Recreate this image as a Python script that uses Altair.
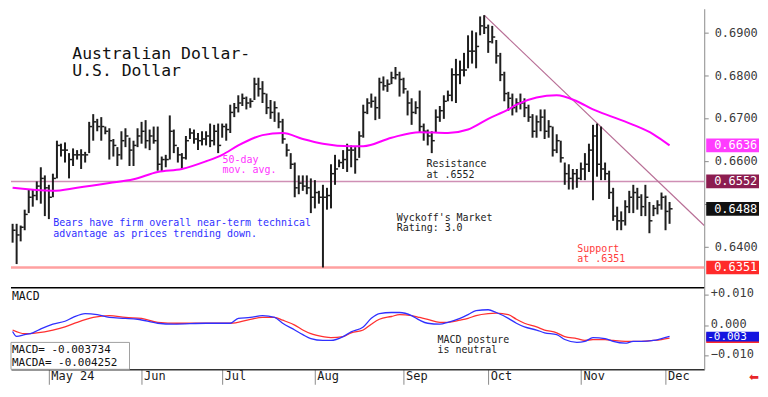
import json
import altair as alt
import pandas as pd

# ---------------- data ----------------
bar_high = [
    0.6453, 0.6453, 0.6449, 0.6486, 0.6533, 0.6533, 0.6552, 0.6585, 0.6566, 0.6544,
    0.6570, 0.6647, 0.6640, 0.6643, 0.6618, 0.6629, 0.6625, 0.6627, 0.6621, 0.6691,
    0.6709, 0.6698, 0.6702, 0.6680, 0.6676, 0.6651, 0.6632, 0.6669, 0.6676, 0.6654,
    0.6647, 0.6676, 0.6691, 0.6695, 0.6673, 0.6680, 0.6680, 0.6610, 0.6614, 0.6706,
    0.6673, 0.6632, 0.6618, 0.6658, 0.6676, 0.6673, 0.6665, 0.6669, 0.6669, 0.6687,
    0.6684, 0.6687, 0.6687, 0.6687, 0.6731, 0.6735, 0.6753, 0.6757, 0.6750, 0.6746,
    0.6794, 0.6794, 0.6786, 0.6757, 0.6742, 0.6739, 0.6713, 0.6698, 0.6640, 0.6618,
    0.6596, 0.6566, 0.6566, 0.6566, 0.6559, 0.6555, 0.6530, 0.6544, 0.6537, 0.6592,
    0.6614, 0.6603, 0.6625, 0.6640, 0.6636, 0.6632, 0.6669, 0.6731, 0.6746, 0.6757,
    0.6750, 0.6794, 0.6797, 0.6790, 0.6808, 0.6819, 0.6808, 0.6794, 0.6764, 0.6746,
    0.6739, 0.6764, 0.6687, 0.6673, 0.6669, 0.6720, 0.6728, 0.6753, 0.6764, 0.6816,
    0.6838, 0.6834, 0.6852, 0.6893, 0.6904, 0.6900, 0.6937, 0.6940, 0.6918, 0.6915,
    0.6882, 0.6852, 0.6808, 0.6761, 0.6757, 0.6746, 0.6757, 0.6746, 0.6731, 0.6709,
    0.6706, 0.6720, 0.6720, 0.6695, 0.6680, 0.6662, 0.6647, 0.6596, 0.6592, 0.6581,
    0.6581, 0.6596, 0.6618, 0.6640, 0.6684, 0.6687, 0.6680, 0.6596, 0.6577, 0.6537,
    0.6493, 0.6482, 0.6508, 0.6530, 0.6544, 0.6537, 0.6522, 0.6544, 0.6504, 0.6497,
    0.6508, 0.6526, 0.6519, 0.6504,
]
bar_low = [
    0.6409, 0.6359, 0.6412, 0.6438, 0.6478, 0.6493, 0.6508, 0.6500, 0.6471, 0.6464,
    0.6515, 0.6559, 0.6610, 0.6596, 0.6559, 0.6588, 0.6603, 0.6581, 0.6596, 0.6618,
    0.6647, 0.6669, 0.6647, 0.6662, 0.6603, 0.6610, 0.6588, 0.6603, 0.6632, 0.6588,
    0.6588, 0.6632, 0.6640, 0.6629, 0.6625, 0.6640, 0.6577, 0.6574, 0.6585, 0.6603,
    0.6618, 0.6596, 0.6581, 0.6603, 0.6651, 0.6640, 0.6625, 0.6636, 0.6636, 0.6632,
    0.6636, 0.6618, 0.6654, 0.6647, 0.6665, 0.6702, 0.6713, 0.6728, 0.6720, 0.6724,
    0.6742, 0.6750, 0.6735, 0.6709, 0.6698, 0.6691, 0.6676, 0.6640, 0.6610, 0.6581,
    0.6515, 0.6522, 0.6530, 0.6522, 0.6478, 0.6489, 0.6500, 0.6351, 0.6486, 0.6489,
    0.6544, 0.6585, 0.6581, 0.6574, 0.6585, 0.6570, 0.6607, 0.6654, 0.6709, 0.6724,
    0.6695, 0.6698, 0.6764, 0.6761, 0.6779, 0.6790, 0.6750, 0.6757, 0.6706, 0.6684,
    0.6709, 0.6665, 0.6647, 0.6636, 0.6618, 0.6665, 0.6691, 0.6698, 0.6739, 0.6739,
    0.6735, 0.6779, 0.6797, 0.6816, 0.6827, 0.6816, 0.6893, 0.6896, 0.6852, 0.6874,
    0.6827, 0.6786, 0.6739, 0.6717, 0.6706, 0.6713, 0.6720, 0.6702, 0.6691, 0.6654,
    0.6654, 0.6669, 0.6651, 0.6654, 0.6610, 0.6618, 0.6596, 0.6544, 0.6533, 0.6533,
    0.6537, 0.6555, 0.6555, 0.6574, 0.6508, 0.6563, 0.6555, 0.6555, 0.6511, 0.6460,
    0.6438, 0.6438, 0.6449, 0.6478, 0.6478, 0.6486, 0.6471, 0.6471, 0.6431, 0.6471,
    0.6475, 0.6486, 0.6438, 0.6453,
]
bar_close = [
    0.6438, 0.6427, 0.6445, 0.6475, 0.6515, 0.6519, 0.6541, 0.6559, 0.6537, 0.6515,
    0.6559, 0.6636, 0.6625, 0.6625, 0.6603, 0.6614, 0.6614, 0.6614, 0.6614, 0.6680,
    0.6691, 0.6680, 0.6680, 0.6669, 0.6647, 0.6636, 0.6614, 0.6647, 0.6658, 0.6625,
    0.6636, 0.6658, 0.6669, 0.6647, 0.6658, 0.6647, 0.6592, 0.6603, 0.6603, 0.6669,
    0.6636, 0.6614, 0.6607, 0.6647, 0.6665, 0.6651, 0.6647, 0.6651, 0.6658, 0.6647,
    0.6669, 0.6636, 0.6680, 0.6673, 0.6713, 0.6724, 0.6735, 0.6746, 0.6735, 0.6739,
    0.6779, 0.6768, 0.6757, 0.6724, 0.6713, 0.6724, 0.6691, 0.6651, 0.6625, 0.6592,
    0.6537, 0.6548, 0.6541, 0.6537, 0.6515, 0.6526, 0.6515, 0.6515, 0.6519, 0.6570,
    0.6581, 0.6596, 0.6603, 0.6625, 0.6625, 0.6603, 0.6658, 0.6713, 0.6735, 0.6739,
    0.6724, 0.6783, 0.6775, 0.6779, 0.6794, 0.6801, 0.6790, 0.6768, 0.6735, 0.6713,
    0.6724, 0.6680, 0.6669, 0.6658, 0.6647, 0.6702, 0.6717, 0.6739, 0.6753, 0.6801,
    0.6801, 0.6812, 0.6812, 0.6856, 0.6856, 0.6867, 0.6915, 0.6911, 0.6878, 0.6889,
    0.6845, 0.6801, 0.6757, 0.6746, 0.6724, 0.6735, 0.6735, 0.6724, 0.6702, 0.6669,
    0.6691, 0.6702, 0.6669, 0.6680, 0.6625, 0.6647, 0.6607, 0.6570, 0.6559, 0.6570,
    0.6559, 0.6581, 0.6592, 0.6625, 0.6658, 0.6592, 0.6581, 0.6570, 0.6526, 0.6471,
    0.6460, 0.6460, 0.6493, 0.6515, 0.6526, 0.6515, 0.6493, 0.6515, 0.6460, 0.6489,
    0.6497, 0.6515, 0.6482, 0.6488,
]

ma_idx = [0, 10, 16, 24, 30, 36, 42, 48, 52, 56, 60, 62, 67, 72, 77, 84, 87, 94,
          101, 108, 113, 118, 123, 125, 130, 135, 140, 144, 149, 154, 159, 163]
ma_val = [0.6537, 0.6530, 0.6537, 0.6548, 0.6557, 0.6574, 0.6581, 0.6599, 0.6614,
          0.6636, 0.6654, 0.6660, 0.6665, 0.6651, 0.6640, 0.6634, 0.6634, 0.6654,
          0.6667, 0.6665, 0.6673, 0.6698, 0.6720, 0.6731, 0.6748, 0.6753, 0.6739,
          0.6720, 0.6702, 0.6684, 0.6662, 0.6636]

macd_idx = [0, 1, 3, 5, 7, 10, 13, 15, 18, 21, 24, 28, 31, 36, 40, 48, 54, 56, 59, 62,
            65, 67, 70, 72, 74, 77, 79, 82, 84, 87, 89, 91, 94, 96, 99, 101, 103, 106,
            108, 111, 113, 115, 118, 120, 123, 125, 127, 130, 132, 135, 137, 140, 142,
            144, 147, 149, 152, 154, 156, 159, 161, 163]
macd_val = [-0.0021, -0.0037, -0.0031, -0.0025, -0.00125, 0.0003, 0.00125, 0.0025,
            0.00375, 0.0034, 0.0025, 0.0022, 0.0019, 0.0006, 0.0003, 0.0006, 0.0006,
            0.0022, 0.0025, 0.0031, 0.0025, 0.0006, -0.0016, -0.0031, -0.0044, -0.0050,
            -0.0050, -0.00375, -0.0022, -0.0006, 0.0022, 0.00375, 0.0041, 0.0041, 0.0031,
            0.0016, 0.0006, 0.0003, 0.0009, 0.0022, 0.0034, 0.0047, 0.0050, 0.0041,
            0.0022, 0.0006, -0.0006, -0.0016, -0.0025, -0.0031, -0.0047, -0.0056,
            -0.0053, -0.0041, -0.0044, -0.0053, -0.0059, -0.0053, -0.0053, -0.0050,
            -0.0044, -0.0037]

sig_idx = [0, 3, 6, 10, 13, 16, 20, 24, 28, 32, 36, 41, 48, 54, 59, 62, 65, 67, 70, 72,
           74, 77, 79, 82, 84, 87, 89, 91, 94, 96, 99, 101, 103, 106, 108, 111, 113, 115,
           118, 120, 123, 125, 127, 130, 132, 135, 137, 140, 142, 144, 147, 149, 152,
           154, 156, 159, 161, 163]
sig_val = [-0.0016, -0.0028, -0.0025, -0.0016, -0.0006, 0.0009, 0.0025, 0.0031, 0.0025,
           0.0022, 0.0009, 0.0006, 0.0006, 0.0006, 0.0019, 0.0025, 0.0025, 0.0016, 0.0,
           -0.0016, -0.0028, -0.00375, -0.0041, -0.00375, -0.0025, -0.0016, 0.0003,
           0.0019, 0.0028, 0.0034, 0.0031, 0.0025, 0.0019, 0.0009, 0.0009, 0.0016,
           0.0022, 0.0031, 0.00375, 0.0039, 0.0034, 0.0019, 0.0006, -0.0006, -0.0016,
           -0.0025, -0.00375, -0.0044, -0.0050, -0.0047, -0.0047, -0.0050, -0.0053,
           -0.0053, -0.0053, -0.0050, -0.0047, -0.00425]

month_idx = [9, 32, 52, 75, 97, 118, 141, 162]
month_lab = ["May 24", "Jun", "Jul", "Aug", "Sep", "Oct", "Nov", "Dec"]
price_ticks = [0.64, 0.65, 0.66, 0.67, 0.68, 0.69]
hidden_tick = 0.65          # its label sits behind the 0.6488 tag in the reference
macd_ticks = [-0.01, 0.0, 0.01]

resistance_level = [0.6552]
support_level = [0.6351]
trend_idx = [117, 171.6]
trend_val = [0.6940, 0.6449]

tag_val = [0.6636, 0.6552, 0.6488, 0.6351]
tag_lab = ["0.6636", "0.6552", "0.6488", "0.6351"]
tag_bg = ["#ff3cff", "#8c1d50", "#111111", "#ff2a2a"]

macd_tag_val = [-0.004252, -0.003734]
macd_tag_lab = ["", "-0.003"]
macd_tag_bg = ["#ff2a2a", "#1515e0"]

# ---------------- layout / style ----------------
W, H1, H2 = 696, 280, 82
XDOM = [-0.4, 171.6]
PDOM = [0.6304, 0.6955]
MDOM = [-0.0144, 0.0122]
MONO = "DejaVu Sans Mono"
INK = "#1e1e1e"

bars = pd.DataFrame({"idx": list(range(len(bar_high))), "hi": bar_high,
                     "lo": bar_low, "close": bar_close})
ma = pd.DataFrame({"idx": ma_idx, "val": ma_val})
trend = pd.DataFrame({"idx": trend_idx, "val": trend_val})
macd = pd.DataFrame({"idx": macd_idx, "val": macd_val})
sig = pd.DataFrame({"idx": sig_idx, "val": sig_val})
tags = pd.DataFrame({"v": tag_val, "lab": tag_lab, "bg": tag_bg})
mtags = pd.DataFrame({"v": macd_tag_val, "lab": macd_tag_lab, "bg": macd_tag_bg})
one = pd.DataFrame({"a": [0]})

xscale = alt.Scale(domain=XDOM, nice=False, zero=False)
pscale = alt.Scale(domain=PDOM, nice=False, zero=False)
mscale = alt.Scale(domain=MDOM, nice=False, zero=False)

price_axis = alt.Axis(orient="right", values=price_ticks, title="", grid=False,
                      labelExpr=f"abs(datum.value - {hidden_tick}) < 0.00001 ? '' : format(datum.value, '.4f')",
                      domainColor="#8a8a8a", tickColor="#8a8a8a",
                      tickSize=4, labelPadding=6, labelFont=MONO, labelFontSize=12,
                      labelColor="#3a3a3a")
macd_axis = alt.Axis(orient="right", values=macd_ticks, title="", grid=False,
                     labelExpr="datum.value > 0 ? '+' + format(datum.value, '.3f') : format(datum.value, '.3f')",
                     domainColor="#8a8a8a", tickColor="#8a8a8a", tickSize=4,
                     labelPadding=2, labelOffset=-2, labelFont=MONO, labelFontSize=12,
                     labelColor="#3a3a3a")
month_expr = json.dumps(month_lab) + "[indexof(" + json.dumps(month_idx) + ", datum.value)]"
time_axis = alt.Axis(orient="bottom", values=month_idx, labelExpr=month_expr, title="",
                     grid=False, domainColor="#333333", domainWidth=1.5,
                     tickColor="#8a8a8a", tickSize=15, labelAlign="left",
                     labelBaseline="top", labelPadding=-14, labelOffset=2,
                     labelFont=MONO, labelFontSize=12, labelColor="#1a1a1a",
                     labelFlush=False, labelOverlap=False, labelBound=False)


def PX(f):
    return alt.X(f"{f}:Q", scale=xscale, axis=None, title="")


def PY(f):
    return alt.Y(f"{f}:Q", scale=pscale, axis=price_axis, title="")


def MX(f):
    return alt.X(f"{f}:Q", scale=xscale, axis=time_axis, title="")


def MY(f):
    return alt.Y(f"{f}:Q", scale=mscale, axis=macd_axis, title="")


def note(lines, ix, v, color, xf, yf, size=10, lh=10.5):
    df = pd.DataFrame({"ix": [ix], "v": [v]})
    return alt.Chart(df).mark_text(
        text=lines, align="left", baseline="top", font=MONO, fontSize=size,
        lineHeight=lh, color=color,
    ).encode(x=xf("ix"), y=yf("v"))


# ---------------- price panel ----------------
support = alt.Chart(pd.DataFrame({"v": support_level})).mark_rule(
    color="#ffa0a0", strokeWidth=2.5).encode(y=PY("v"))
resist = alt.Chart(pd.DataFrame({"v": resistance_level})).mark_rule(
    color="#cf8fb5", strokeWidth=1.5).encode(y=PY("v"))
trendline = alt.Chart(trend).mark_line(color="#b86f96", strokeWidth=1.2, clip=True).encode(
    x=PX("idx"), y=PY("val"))
hl = alt.Chart(bars).mark_rule(color=INK, strokeWidth=2).encode(
    x=PX("idx"), y=PY("lo"), y2="hi:Q")
cl = alt.Chart(bars).transform_calculate(x2="datum.idx + 0.75").mark_rule(
    color=INK, strokeWidth=1.5).encode(x=PX("idx"), x2="x2:Q", y=PY("close"))
maline = alt.Chart(ma).mark_line(color="#ff00ff", strokeWidth=2, interpolate="monotone").encode(
    x=PX("idx"), y=PY("val"))

title = note(["Australian Dollar-", "U.S. Dollar"], 14.8, 0.6868, "#111111", PX, PY,
             size=16.5, lh=17.5)
n_ma = note(["50-day", "mov. avg."], 52.1, 0.6614, "#ff33ff", PX, PY)
n_res = note(["Resistance", "at .6552"], 102.7, 0.6604, "#222222", PX, PY)
n_bear = note(["Bears have firm overall near-term technical",
               "advantage as prices trending down."], 10.1, 0.6466, "#3030ff", PX, PY)
n_wyck = note(["Wyckoff's Market", "Rating: 3.0"], 95.3, 0.6479, "#222222", PX, PY)
n_sup = note(["Support", "at .6351"], 140.1, 0.6406, "#ff3a3a", PX, PY)

sep = alt.Chart(one).mark_rule(color="#000000", strokeWidth=1.5).encode(
    x=alt.value(0), x2=alt.value(W), y=alt.value(H1))

tag_rect = alt.Chart(tags).transform_calculate(
    v1="datum.v - 0.0016", v2="datum.v + 0.0016").mark_rect().encode(
    x=alt.value(W + 2), x2=alt.value(W + 55), y=PY("v1"), y2="v2:Q",
    color=alt.Color("bg:N", scale=None))
tag_text = alt.Chart(tags).mark_text(
    align="left", baseline="middle", font=MONO, fontSize=12, color="white").encode(
    x=alt.value(W + 10), y=PY("v"), text="lab:N")

price = alt.layer(
    support, resist, trendline, hl, cl, maline,
    title, n_ma, n_res, n_bear, n_wyck, n_sup,
    sep, tag_rect, tag_text,
).properties(width=W, height=H1)

# ---------------- MACD panel ----------------
red = alt.Chart(sig).mark_line(color="#ff3030", strokeWidth=1.3, interpolate="monotone").encode(
    x=MX("idx"), y=MY("val"))
blue = alt.Chart(macd).mark_line(color="#3030ff", strokeWidth=1.3, interpolate="monotone").encode(
    x=MX("idx"), y=MY("val"))
lbl = alt.Chart(one).mark_text(text="MACD", align="left", baseline="top", font=MONO,
                               fontSize=11.5, color="#111111").encode(
    x=alt.value(1), y=alt.value(3))
n_post = note(["MACD posture", "is neutral"], 105.4, -0.0031, "#222222", MX, MY)
box = alt.Chart(one).mark_rect(fill="white", stroke="#a0a0a0", strokeWidth=1).encode(
    x=alt.value(0), x2=alt.value(119), y=alt.value(55), y2=alt.value(H2))
box_txt = alt.Chart(one).mark_text(
    text=["MACD=  -0.003734", "MACDA= -0.004252"], align="left", baseline="top",
    font=MONO, fontSize=11, lineHeight=12.5, color="#111111").encode(
    x=alt.value(1), y=alt.value(57))
mtag_rect = alt.Chart(mtags).transform_calculate(
    v1="datum.v - 0.0016", v2="datum.v + 0.0016").mark_rect().encode(
    x=alt.value(W + 2), x2=alt.value(W + 55), y=MY("v1"), y2="v2:Q",
    color=alt.Color("bg:N", scale=None))
mtag_text = alt.Chart(mtags).mark_text(
    align="left", baseline="middle", font=MONO, fontSize=11, color="white").encode(
    x=alt.value(W + 3), y=MY("v"), text="lab:N")
arrow = alt.Chart(one).mark_text(text="\u2b05", font="DejaVu Sans", fontSize=12,
                                 color="#e8262a", align="center", baseline="middle").encode(
    x=alt.value(W + 50), y=alt.value(H2 + 8))

macd_chart = alt.layer(
    red, blue, lbl, n_post, box, box_txt, mtag_rect, mtag_text, arrow,
).properties(width=W, height=H2)

chart = alt.vconcat(price, macd_chart, spacing=0, bounds="flush").properties(
    padding=0, background="white").configure_view(strokeWidth=0)

chart.save("out.html", embed_options={"renderer": "svg", "actions": False})
